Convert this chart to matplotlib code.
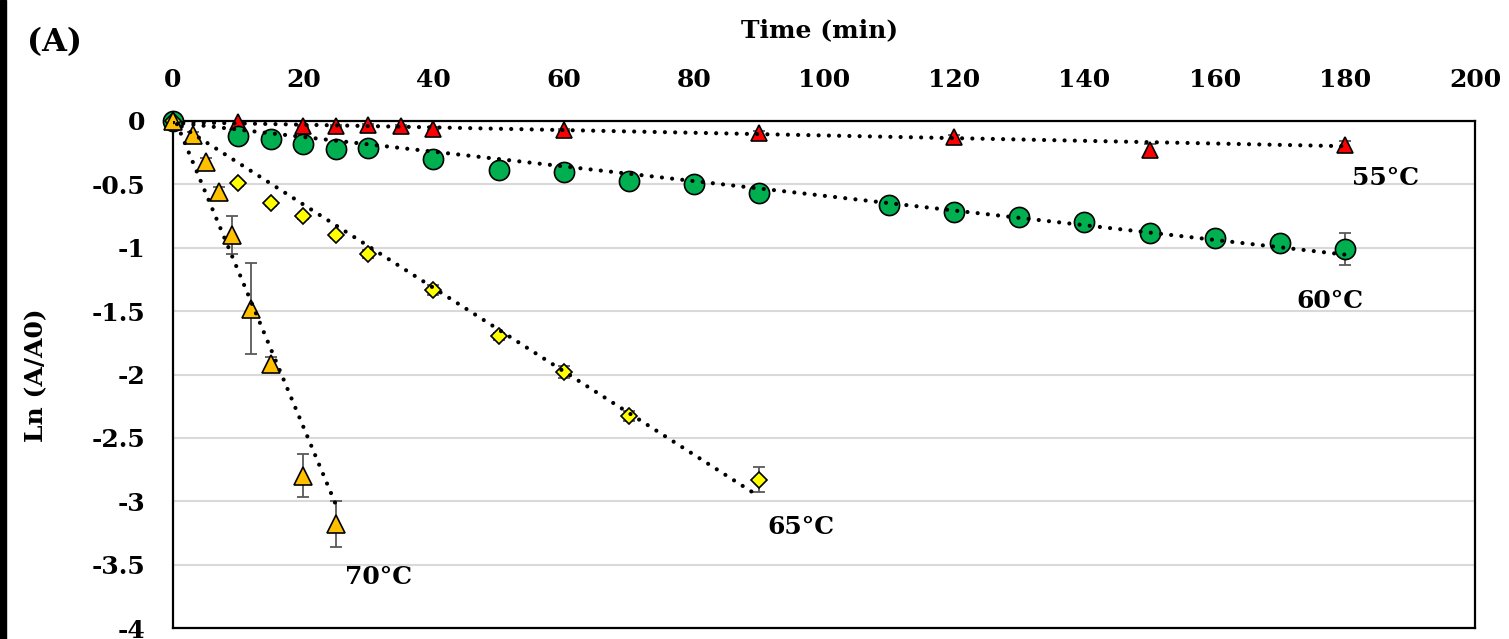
import matplotlib.pyplot as plt
from matplotlib.patches import Rectangle
import numpy as np

plt.rcParams['font.family'] = 'DejaVu Serif'
plt.rcParams['font.weight'] = 'bold'
plt.rcParams['axes.unicode_minus'] = False

#%% Data: time (min) vs Ln(A/A0)
t55 = [0, 10, 20, 25, 30, 35, 40, 60, 90, 120, 150, 180]
y55 = [0, -0.01, -0.04, -0.04, -0.03, -0.04, -0.06, -0.07, -0.095, -0.13, -0.23, -0.19]
e55 = [0, 0.01, 0.01, 0.01, 0.01, 0.01, 0.01, 0.01, 0.02, 0.02, 0.05, 0.03]

t60 = [0, 10, 15, 20, 25, 30, 40, 50, 60, 70, 80, 90, 110, 120, 130, 140, 150, 160, 170, 180]
y60 = [0, -0.12, -0.14, -0.18, -0.22, -0.21, -0.30, -0.39, -0.40, -0.47, -0.50, -0.57,
       -0.66, -0.72, -0.76, -0.80, -0.88, -0.92, -0.96, -1.01]
e60 = [0, 0.02, 0.02, 0.02, 0.02, 0.02, 0.02, 0.02, 0.02, 0.02, 0.02, 0.03,
       0.03, 0.03, 0.03, 0.03, 0.03, 0.03, 0.06, 0.13]

t65 = [0, 10, 15, 20, 25, 30, 40, 50, 60, 70, 90]
y65 = [0, -0.49, -0.65, -0.75, -0.90, -1.05, -1.33, -1.70, -1.98, -2.33, -2.83]
e65 = [0, 0.02, 0.02, 0.02, 0.02, 0.03, 0.04, 0.03, 0.05, 0.04, 0.10]

t70 = [0, 3, 5, 7, 9, 12, 15, 20, 25]
y70 = [0, -0.11, -0.32, -0.56, -0.90, -1.48, -1.92, -2.80, -3.18]
e70 = [0, 0.02, 0.03, 0.04, 0.15, 0.36, 0.06, 0.17, 0.18]

# linear trendlines (slope, intercept) as drawn in the figure
trend55 = (-0.00106, -0.008)
trend60 = (-0.0058, -0.01)
trend65 = (-0.0329, 0.0)
trend70 = (-0.123, 0.05)

#%% Figure
fig = plt.figure(figsize=(15.09, 6.39), dpi=100)
fig.patches.append(Rectangle((0, 0), 6/1509, 1, transform=fig.transFigure,
                             color='black', zorder=0))
ax = fig.add_axes([173/1509, 1-628/639, (1475-173)/1509, (628-121)/639])

series = [
    (t55, y55, e55, trend55, '^', '#FF0000', 11.5, '55°C', (186.3, -0.45)),
    (t60, y60, e60, trend60, 'o', '#00B050', 14.5, '60°C', (177.7, -1.42)),
    (t65, y65, e65, trend65, 'D', '#FFFF00', 8.5, '65°C', (96.5, -3.20)),
    (t70, y70, e70, trend70, '^', '#FFC000', 12.5, '70°C', (31.5, -3.60)),
]

for t, y, e, tr, mk, col, ms, lab, pos in series:
    ax.errorbar(t, y, yerr=e, fmt='none', ecolor='#595959', elinewidth=1.3,
                capsize=4.5, capthick=1.3, zorder=2, clip_on=False)
    ax.plot(t, y, linestyle='none', marker=mk, markersize=ms, markerfacecolor=col,
            markeredgecolor='black', markeredgewidth=1.2, zorder=3, clip_on=False)
    xs = np.array([0, max(t)])
    ax.plot(xs, tr[0]*xs + tr[1], color='black', linewidth=3,
            linestyle=(0, (0.01, 2.45)), dash_capstyle='round', zorder=4)
    ax.text(pos[0], pos[1], lab, fontsize=18, fontweight='bold',
            ha='center', va='center')

ax.set_xlim(0, 200)
ax.set_ylim(-4, 0)
ax.set_xticks(np.arange(0, 201, 20))
ax.set_yticks(np.arange(-4, 0.01, 0.5))
ax.set_yticklabels(['%g' % v for v in np.arange(-4, 0.01, 0.5)])
ax.xaxis.tick_top()
ax.tick_params(axis='both', length=0, labelsize=18)
ax.tick_params(axis='x', pad=21)
ax.tick_params(axis='y', pad=20)
for lbl in ax.get_xticklabels() + ax.get_yticklabels():
    lbl.set_fontweight('bold')
ax.grid(axis='y', color='#D9D9D9', linewidth=1.5)
ax.set_axisbelow(True)
for s in ax.spines.values():
    s.set_linewidth(1.6)
    s.set_color('black')

fig.text(820/1509, 1-30/639, 'Time (min)', fontsize=18, fontweight='bold',
         ha='center', va='center')
fig.text(36/1509, 1-375/639, 'Ln (A/A0)', fontsize=18, fontweight='bold',
         rotation=90, ha='center', va='center')
fig.text(54/1509, 1-43/639, '(A)', fontsize=23, fontweight='bold',
         ha='center', va='center')

plt.savefig('out.png', dpi=100)
